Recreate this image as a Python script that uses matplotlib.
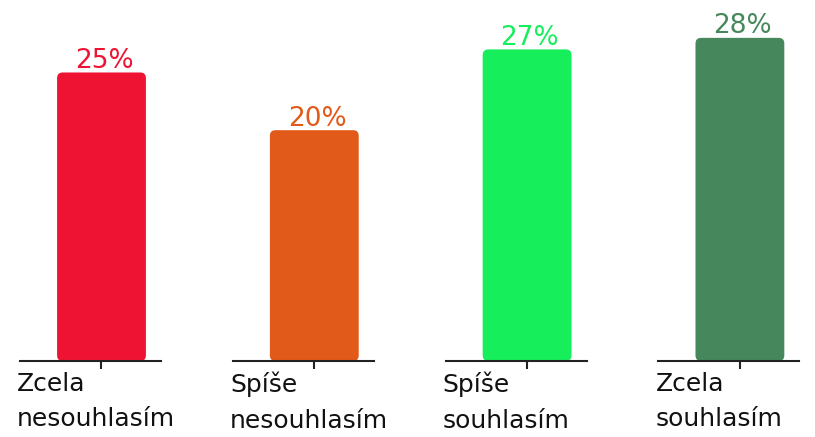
import matplotlib.pyplot as plt
from matplotlib.patches import FancyBboxPatch

categories = ['Zcela\nnesouhlasím', 'Spíše\nnesouhlasím', 'Spíše\nsouhlasím', 'Zcela\nsouhlasím']
values = [25, 20, 27, 28]
labels = ['25%', '20%', '27%', '28%']
colors = ['#ef1333', '#e15a19', '#16ee5c', '#46875b']

W, H = 815, 437
fig = plt.figure(figsize=(W / 100, H / 100), dpi=100)

step = 212.8
for i, (cat, v, lab, c) in enumerate(zip(categories, values, labels, colors)):
    ax = fig.add_axes([(20 + step * i) / W, 76 / H, 141 / W, 361 / H])
    ax.set_xlim(-0.578, 0.422)
    ax.set_ylim(0, 31.28)
    bw = 0.63
    bars = ax.bar([0], [v], width=bw, color=c)
    bars[0].set_visible(False)
    patch = FancyBboxPatch((-bw / 2, 0), bw, v,
                           boxstyle='round,pad=0,rounding_size=0.04',
                           mutation_aspect=31.28 / 361 * 141 / 1.0,
                           fc=c, ec='none')
    ax.add_patch(patch)
    ax.text(0.02, v + 0.4, lab, ha='center', va='baseline', color=c, fontsize=19)
    for s in ['top', 'left', 'right']:
        ax.spines[s].set_visible(False)
    ax.spines['bottom'].set_linewidth(1.5)
    ax.spines['bottom'].set_color('#222222')
    ax.set_yticks([])
    ax.set_xticks([0])
    ax.set_xticklabels([''])
    ax.tick_params(axis='x', length=6, width=1.5, color='#222222')
    ax.text(-0.02, -0.03, cat, transform=ax.transAxes, ha='left', va='top',
            fontsize=18, color='#111111', linespacing=1.6)

fig.savefig('out.png', dpi=100)
